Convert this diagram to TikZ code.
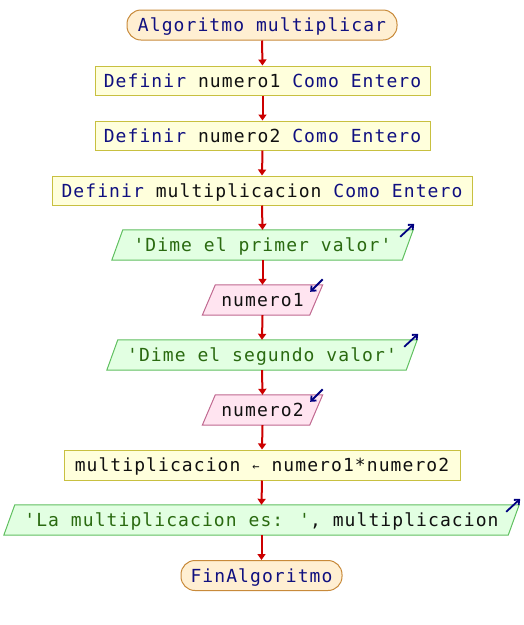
\documentclass[tikz,border=0pt]{standalone}
\usepackage{fontspec}
\newfontfamily\pmono[LetterSpace=6]{DejaVu Sans Mono}
\usetikzlibrary{arrows.meta,calc}
\definecolor{kw}{HTML}{101080}
\definecolor{strc}{HTML}{2A6A10}
\definecolor{varc}{HTML}{101010}
\definecolor{procfill}{HTML}{FFFFDC}
\definecolor{procdraw}{HTML}{C8C040}
\definecolor{outfill}{HTML}{E2FFE2}
\definecolor{outdraw}{HTML}{60C060}
\definecolor{infill}{HTML}{FFE4F0}
\definecolor{indraw}{HTML}{C06890}
\definecolor{termfill}{HTML}{FFEFD2}
\definecolor{termdraw}{HTML}{C88A3A}
\definecolor{flow}{HTML}{CC0000}
\definecolor{icon}{HTML}{000080}
\begin{document}
\begin{tikzpicture}[x=1pt,y=-1pt,
  every node/.style={font=\pmono\fontsize{18}{20}\selectfont, inner sep=0pt, text=varc, text height=14.5pt, text depth=1pt},
  term/.style={draw=termdraw, fill=termfill, line width=1pt, rounded corners=14pt, minimum height=30pt},
  proc/.style={draw=procdraw, fill=procfill, line width=1pt, minimum height=29pt},
  pbox/.style={minimum height=30pt},
  outshape/.style={draw=outdraw, fill=outfill, line width=1pt},
  inshape/.style={draw=indraw, fill=infill, line width=1pt},
  flowline/.style={draw=flow, line width=2pt, -{Triangle[width=8pt,length=6pt]}},
  iconarrow/.style={draw=icon, line width=1.8pt, -{Straight Barb[length=4pt,width=7pt]}}
]
\useasboundingbox (0,0) rectangle (524,625);
% nodes
\node[term, minimum width=270pt, text=kw] (n1) at (262,25) {Algoritmo multiplicar};
\node[proc, minimum width=335pt] (n2) at (262.5,80.5) {\textcolor{kw}{Definir} numero1 \textcolor{kw}{Como Entero}};
\node[proc, minimum width=335pt] (n3) at (262.5,135.5) {\textcolor{kw}{Definir} numero2 \textcolor{kw}{Como Entero}};
\node[proc, minimum width=420pt] (n4) at (262,190.5) {\textcolor{kw}{Definir} multiplicacion \textcolor{kw}{Como Entero}};
% parallelogram shapes drawn behind text nodes
\node[pbox, minimum width=290pt] (n5) at (262.5,245) {};
\draw[outshape] ($(n5.south west)+(-5.5,0)$) -- ($(n5.north west)+(5.5,0)$) -- ($(n5.north east)+(5.5,0)$) -- ($(n5.south east)+(-5.5,0)$) -- cycle;
\node[text=strc] (t5) at (n5) {'Dime el primer valor'};
\draw[iconarrow] ($(n5.north east)+(-7.5,7)$) -- ($(n5.north east)+(6.5,-6)$);

\node[pbox, minimum width=107pt] (n6) at (262.5,300) {};
\draw[inshape] ($(n6.south west)+(-6.5,0)$) -- ($(n6.north west)+(6.5,0)$) -- ($(n6.north east)+(6.5,0)$) -- ($(n6.south east)+(-6.5,0)$) -- cycle;
\node (t6) at (n6) {numero1};
\draw[iconarrow] ($(n6.north east)+(6.5,-5.5)$) -- ($(n6.north east)+(-6,7)$);

\node[pbox, minimum width=299pt] (n7) at (262,355) {};
\draw[outshape] ($(n7.south west)+(-5.5,0)$) -- ($(n7.north west)+(5.5,0)$) -- ($(n7.north east)+(5.5,0)$) -- ($(n7.south east)+(-5.5,0)$) -- cycle;
\node[text=strc] (t7) at (n7) {'Dime el segundo valor'};
\draw[iconarrow] ($(n7.north east)+(-7.5,7)$) -- ($(n7.north east)+(6.5,-6)$);

\node[pbox, minimum width=107pt] (n8) at (262.5,410) {};
\draw[inshape] ($(n8.south west)+(-6.5,0)$) -- ($(n8.north west)+(6.5,0)$) -- ($(n8.north east)+(6.5,0)$) -- ($(n8.south east)+(-6.5,0)$) -- cycle;
\node (t8) at (n8) {numero2};
\draw[iconarrow] ($(n8.north east)+(6.5,-5.5)$) -- ($(n8.north east)+(-6,7)$);

\node[proc, minimum width=396pt, minimum height=30pt] (n9) at (262,465) {multiplicacion \raisebox{1pt}{\fontsize{12}{12}\selectfont←} numero1*numero2};

\node[pbox, minimum width=504pt] (n10) at (261.5,520) {};
\draw[outshape] ($(n10.south west)+(-5.5,0)$) -- ($(n10.north west)+(5.5,0)$) -- ($(n10.north east)+(5.5,0)$) -- ($(n10.south east)+(-5.5,0)$) -- cycle;
\node (t10) at (n10) {\textcolor{strc}{'La multiplicacion es: '}, multiplicacion};
\draw[iconarrow] ($(n10.north east)+(-7.5,7)$) -- ($(n10.north east)+(6.5,-6)$);

\node[term, minimum width=161pt, text=kw] (n11) at (261.5,575.5) {FinAlgoritmo};
% connectors
\draw[flowline] (n1.south) -- (n2.north);
\draw[flowline] (n2.south) -- (n3.north);
\draw[flowline] (n3.south) -- (n4.north);
\draw[flowline] (n4.south) -- (n5.north);
\draw[flowline] (n5.south) -- (n6.north);
\draw[flowline] (n6.south) -- (n7.north);
\draw[flowline] (n7.south) -- (n8.north);
\draw[flowline] (n8.south) -- (n9.north);
\draw[flowline] (n9.south) -- (n10.north);
\draw[flowline] (n10.south) -- (n11.north);
\end{tikzpicture}
\end{document}
